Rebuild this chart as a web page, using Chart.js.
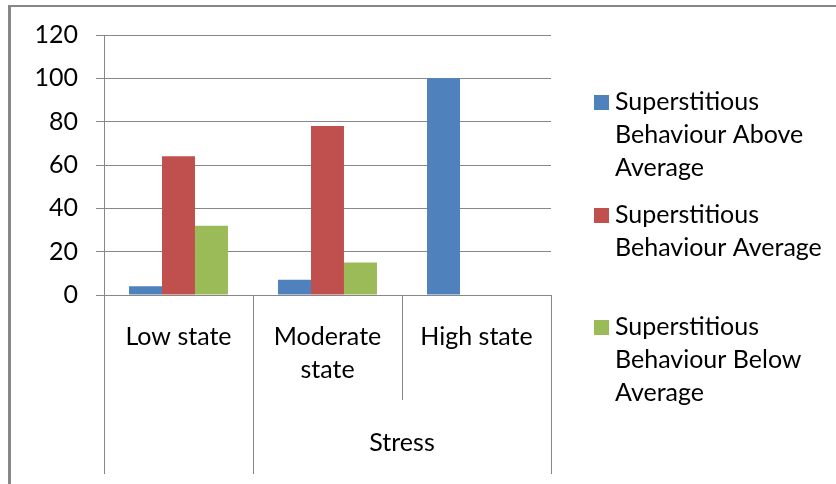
<!DOCTYPE html>
<html>
<head>
<meta charset="utf-8">
<script src="https://cdn.jsdelivr.net/npm/chart.js@4"></script>
<style>
  html, body { margin: 0; padding: 0; background: #fff; width: 836px; height: 484px; overflow: hidden; }
  #frame { position: absolute; left: 8px; top: 5px; width: 900px; height: 600px;
           border-left: 3px solid #878787; border-top: 2px solid #878787; }
  #wrap { position: absolute; left: 0; top: 0; width: 836px; height: 484px; }
</style>
</head>
<body>
<div id="frame"></div>
<div id="wrap"><canvas id="c" width="836" height="484"></canvas></div>
<script>
// Categories on the x axis (inner level) and the outer group row beneath them
const categories = ["Low state", ["Moderate", "state"], "High state"];
const groupLabels = ["", "Stress"];
const groupSpans = [1, 2];

// Series
const seriesNames = [
  "Superstitious Behaviour Above Average",
  "Superstitious Behaviour Average",
  "Superstitious Behaviour Below Average"
];
const legendLines = [
  ["Superstitious", "Behaviour Above", "Average"],
  ["Superstitious", "Behaviour Average"],
  ["Superstitious", "Behaviour Below", "Average"]
];
const aboveAverage = [4, 7, 100];
const average = [64, 78, null];
const belowAverage = [32, 15, null];
const seriesColors = ["#4F81BD", "#C0504D", "#9BBB59"];

// Value axis ticks
const yMin = 0, yMax = 120, yStep = 20;

const FONT = "Lato";
const FONT_SIZE = 25;
const GRID = "#878787";

// Draws the category separators, the outer group row and the legend
const decorations = {
  id: "decorations",
  afterDraw(chart) {
    const ctx = chart.ctx;
    const x = chart.scales.x;
    const area = chart.chartArea;
    const n = categories.length;
    const step = (x.right - x.left) / n;
    const innerBottom = 400;
    const outerBottom = chart.height - 10;

    ctx.save();
    ctx.strokeStyle = GRID;
    ctx.lineWidth = 1;
    // boundaries where an outer group starts or ends run through both rows
    const groupEdges = new Set([0]);
    let acc = 0;
    groupSpans.forEach(s => { acc += s; groupEdges.add(acc); });
    for (let i = 0; i <= n; i++) {
      const px = Math.round(x.left + i * step) + 0.5;
      const yEnd = groupEdges.has(i) ? outerBottom : innerBottom;
      ctx.beginPath();
      ctx.moveTo(px, area.bottom);
      ctx.lineTo(px, yEnd);
      ctx.stroke();
    }

    // outer group labels
    ctx.fillStyle = "#000";
    ctx.font = FONT_SIZE + "px " + FONT;
    ctx.textAlign = "center";
    ctx.textBaseline = "middle";
    let start = 0;
    groupLabels.forEach((lbl, gi) => {
      const span = groupSpans[gi];
      const cx = x.left + (start + span / 2) * step;
      if (lbl) ctx.fillText(lbl, cx, 443);
      start += span;
    });

    // legend
    const itemTops = [102, 215, 327];
    const lineH = 33;
    const boxX = 594, boxSize = 15, textX = 615;
    ctx.textAlign = "left";
    chart.data.datasets.forEach((ds, i) => {
      const y0 = itemTops[i];
      ctx.fillStyle = ds.backgroundColor;
      ctx.fillRect(boxX, Math.round(y0 - boxSize / 2), boxSize, boxSize);
      ctx.fillStyle = "#000";
      legendLines[i].forEach((line, li) => {
        ctx.fillText(line, textX, y0 + li * lineH);
      });
    });
    ctx.restore();
  }
};

new Chart(document.getElementById("c"), {
  type: "bar",
  data: {
    labels: categories,
    datasets: [
      { label: seriesNames[0], data: aboveAverage, backgroundColor: seriesColors[0] },
      { label: seriesNames[1], data: average, backgroundColor: seriesColors[1] },
      { label: seriesNames[2], data: belowAverage, backgroundColor: seriesColors[2] }
    ]
  },
  options: {
    responsive: false,
    animation: false,
    layout: { padding: { left: 0, top: 35, right: 285, bottom: 0 } },
    datasets: { bar: { categoryPercentage: 0.664, barPercentage: 1.0 } },
    plugins: { legend: { display: false }, tooltip: { enabled: false } },
    scales: {
      x: {
        grid: { display: true, drawOnChartArea: false, drawTicks: false, color: "rgba(0,0,0,0)" },
        border: { display: true, color: GRID, width: 1 },
        ticks: {
          color: "#000",
          padding: 25,
          maxRotation: 0,
          autoSkip: false,
          font: { family: FONT, size: FONT_SIZE, lineHeight: "33px" }
        },
        afterFit(scale) { scale.height = 189; }
      },
      y: {
        min: yMin,
        max: yMax,
        grid: { color: GRID, lineWidth: 1, tickLength: 8 },
        border: { display: true, color: GRID, width: 1 },
        ticks: {
          stepSize: yStep,
          color: "#000",
          padding: 18,
          font: { family: FONT, size: FONT_SIZE }
        },
        afterFit(scale) { scale.width = 104; }
      }
    }
  },
  plugins: [decorations]
});
</script>
</body>
</html>
